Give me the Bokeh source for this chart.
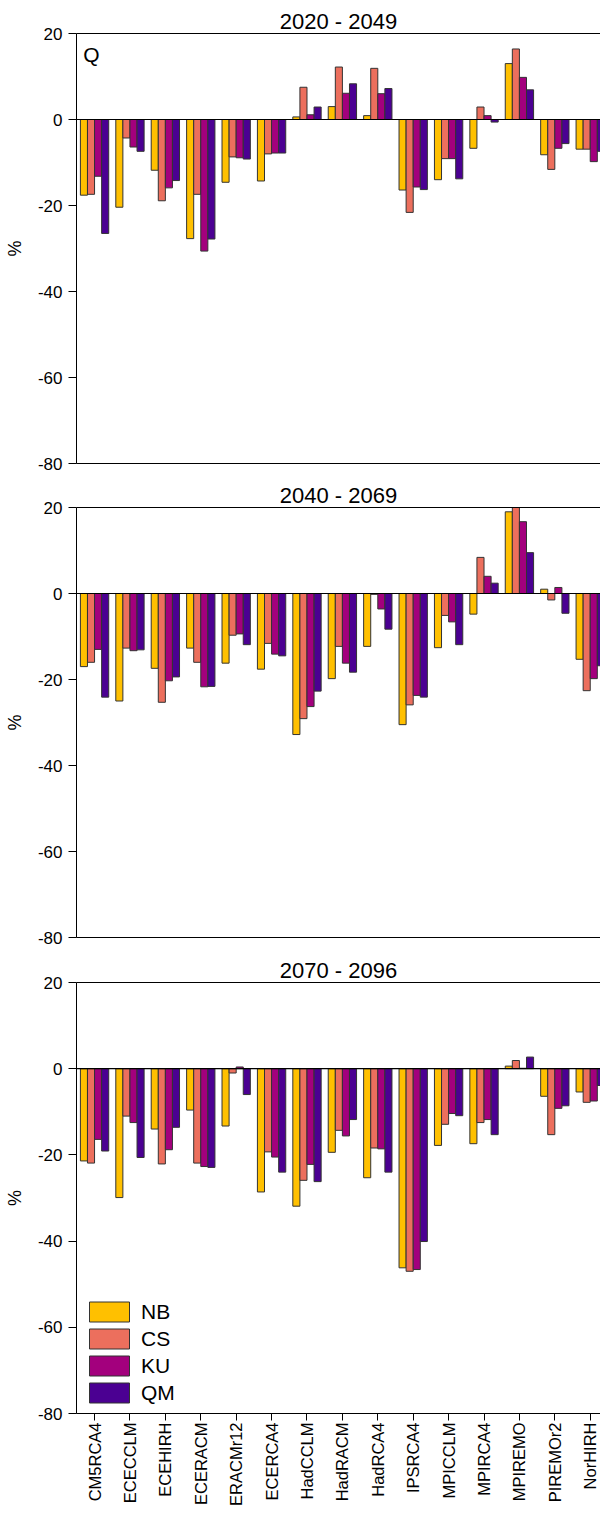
import math
from bokeh.plotting import figure
from bokeh.models import (ColumnDataSource, Range1d, FixedTicker, LinearAxis, Span,
                          Label, Legend, LegendItem, Spacer)
from bokeh.transform import dodge
from bokeh.layouts import column
from bokeh.embed import file_html
from bokeh.resources import INLINE

FONT = "Liberation Sans"

models = ["CM5RCA4", "ECECCLM", "ECEHIRH", "ECERACM", "ERACMr12", "ECERCA4", "HadCCLM",
          "HadRACM", "HadRCA4", "IPSRCA4", "MPICCLM", "MPIRCA4", "MPIREMO", "PIREMOr2", "NorHIRH"]
periods = ["2020 - 2049", "2040 - 2069", "2070 - 2096"]
methods = ["NB", "CS", "KU", "QM"]
colors = ["#FFC000", "#EC6F5D", "#A3007D", "#4B0092"]
y_ticks = [-80, -60, -40, -20, 0, 20]
y_tick_labels = ["-80", "-60", "-40", "-20", "0", "20"]

# 2020 - 2049
nb_1 = [-17.6, -20.4, -11.8, -27.7, -14.6, -14.3, 0.6, 3.0, 0.9, -16.4, -14.0, -6.7, 13.0, -8.2, -6.9]
cs_1 = [-17.4, -4.3, -18.9, -17.4, -8.7, -8.0, 7.5, 12.2, 11.9, -21.6, -9.1, 2.9, 16.4, -11.6, -6.9]
ku_1 = [-13.2, -6.4, -15.9, -30.6, -8.9, -7.8, 1.1, 6.1, 6.0, -15.7, -9.1, 0.9, 9.8, -6.7, -9.8]
qm_1 = [-26.5, -7.4, -14.2, -27.8, -9.2, -7.8, 2.9, 8.3, 7.2, -16.3, -13.8, -0.6, 6.9, -5.6, -7.4]

# 2040 - 2069
nb_2 = [-17.0, -25.0, -17.4, -12.7, -16.2, -17.6, -32.8, -19.8, -12.3, -30.5, -12.6, -4.8, 19.0, 1.0, -15.3]
cs_2 = [-16.0, -12.7, -25.3, -16.0, -9.7, -11.6, -29.1, -12.3, -0.2, -25.9, -5.1, 8.4, 20.5, -1.5, -22.6]
ku_2 = [-13.0, -13.3, -20.3, -21.7, -9.4, -14.1, -26.3, -16.2, -3.6, -23.7, -6.6, 4.0, 16.7, 1.4, -19.8]
qm_2 = [-24.1, -13.1, -19.4, -21.6, -11.9, -14.5, -22.7, -18.3, -8.3, -24.1, -11.9, 2.4, 9.5, -4.6, -16.8]

# 2070 - 2096
nb_3 = [-21.4, -29.9, -14.0, -9.6, -13.3, -28.6, -31.9, -19.4, -25.3, -46.2, -17.8, -17.4, 0.6, -6.4, -5.4]
cs_3 = [-21.9, -11.0, -22.1, -21.9, -1.0, -19.3, -25.9, -14.3, -18.4, -47.0, -12.9, -12.5, 1.9, -15.3, -7.8]
ku_3 = [-16.4, -12.5, -18.8, -22.7, 0.4, -20.5, -22.2, -15.6, -18.6, -46.6, -10.4, -11.8, 0.1, -9.2, -7.5]
qm_3 = [-19.1, -20.6, -13.6, -22.9, -6.0, -24.0, -26.2, -11.8, -24.0, -40.1, -10.9, -15.3, 2.7, -8.6, -3.9]

panel_data = [(nb_1, cs_1, ku_1, qm_1), (nb_2, cs_2, ku_2, qm_2), (nb_3, cs_3, ku_3, qm_3)]
heights = [468, 469, 553]
bottoms = [11, 12, 90]
offsets = [-0.3, -0.1, 0.1, 0.3]

children = []
for i, (period, series) in enumerate(zip(periods, panel_data)):
    last = i == 2
    src = ColumnDataSource(dict(x=list(range(1, len(models) + 1)),
                                NB=series[0], CS=series[1], KU=series[2], QM=series[3]))
    p = figure(width=600, height=heights[i], x_range=Range1d(0.49, 15.29),
               y_range=Range1d(-80, 20), output_backend="svg", toolbar_location=None,
               min_border_left=76, min_border_right=0, min_border_top=0,
               min_border_bottom=bottoms[i], title=period)
    p.title.text_font = FONT
    p.title.text_font_size = "22px"
    p.title.text_font_style = "normal"
    p.title.text_color = "black"
    p.title.align = "center"
    p.title.standoff = 0
    p.title.offset = 0
    p.outline_line_color = None
    p.grid.visible = False

    rends = []
    for m, c, off in zip(methods, colors, offsets):
        r = p.vbar(x=dodge("x", off), top=m, bottom=0, width=0.2, source=src,
                   fill_color=c, line_color="#333333", line_width=1)
        rends.append(r)

    p.add_layout(Span(location=0, dimension="width", line_color="black", line_width=1.2))

    # y axis
    ya = p.left[0]
    ya.ticker = FixedTicker(ticks=y_ticks)
    ya.major_label_overrides = {t: s for t, s in zip(y_ticks, y_tick_labels)}
    ya.major_tick_out = 8
    ya.major_tick_in = 0
    ya.minor_tick_out = 0
    ya.minor_tick_in = 0
    ya.major_label_text_font = FONT
    ya.major_label_text_font_size = "17px"
    ya.major_label_text_color = "black"
    ya.major_label_standoff = 6
    ya.axis_label = "%"
    ya.axis_label_text_font = FONT
    ya.axis_label_text_font_size = "18px"
    ya.axis_label_text_font_style = "normal"
    ya.axis_label_text_color = "black"
    ya.axis_label_standoff = 10
    ya.axis_line_color = "black"
    ya.major_tick_line_color = "black"

    xa = p.below[0]
    xa.axis_line_color = "black"
    xa.minor_tick_out = 0
    xa.minor_tick_in = 0
    if last:
        xa.ticker = FixedTicker(ticks=list(range(1, len(models) + 1)))
        xa.major_label_overrides = {k + 1: name for k, name in enumerate(models)}
        xa.major_label_orientation = math.pi / 2
        xa.major_tick_out = 7
        xa.major_tick_in = 0
        xa.major_label_standoff = 2
        xa.major_label_text_font = FONT
        xa.major_label_text_font_size = "16.5px"
        xa.major_label_text_color = "black"
        xa.major_tick_line_color = "black"

        legend = Legend(items=[LegendItem(label=m, renderers=[r]) for m, r in zip(methods, rends)],
                        location=(8, 8), margin=0, padding=0, spacing=2,
                        glyph_width=50, glyph_height=25, label_standoff=7,
                        label_text_font=FONT, label_text_font_size="21px",
                        label_text_color="black",
                        border_line_color=None, background_fill_alpha=0)
        p.add_layout(legend)
    else:
        xa.ticker = FixedTicker(ticks=[])
        xa.major_tick_out = 0
        xa.major_tick_in = 0
        xa.major_label_standoff = 0
        xa.major_label_text_font_size = "0px"

    # top frame line
    top_ax = LinearAxis(ticker=FixedTicker(ticks=[]), major_tick_out=0, major_tick_in=0,
                        minor_tick_out=0, minor_tick_in=0, major_label_standoff=0,
                        major_label_text_font_size="0px", axis_line_color="black")
    p.add_layout(top_ax, "above")

    if i == 0:
        p.add_layout(Label(x=0.68, y=17.7, text="Q", text_font=FONT, text_font_size="21px",
                           text_baseline="top", text_color="black"))
    children.append(Spacer(width=600, height=6))
    children.append(p)

layout = column(*children)
open("out.html", "w").write(file_html(layout, INLINE))
